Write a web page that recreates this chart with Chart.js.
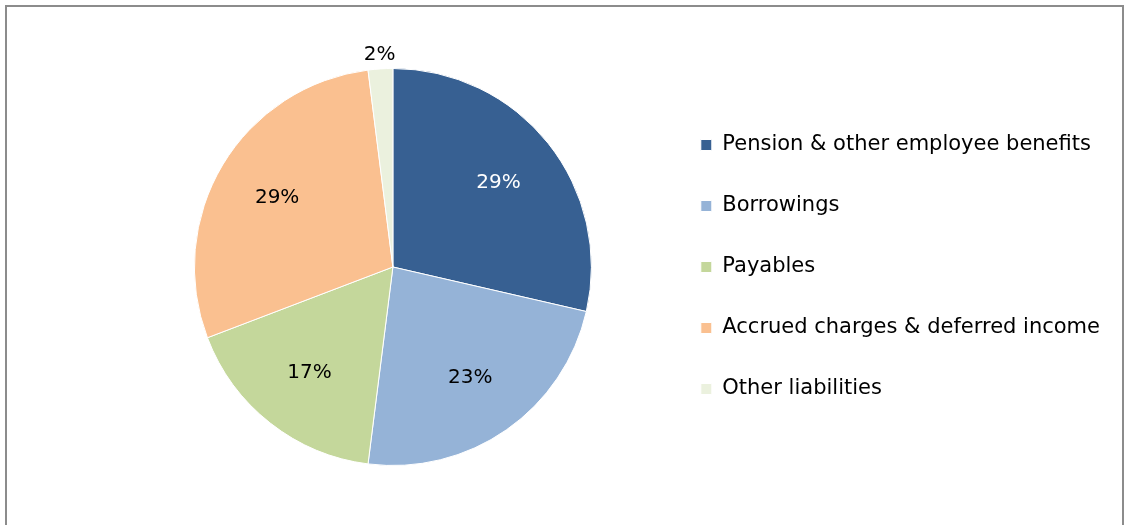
<!DOCTYPE html>
<html>
<head>
<meta charset="utf-8">
<script src="https://cdn.jsdelivr.net/npm/chart.js@4/dist/chart.umd.min.js"></script>
<style>
  html, body { margin: 0; padding: 0; background: #fff; overflow: hidden; }
  #frame {
    position: absolute; left: 5px; top: 5px; width: 1119px; height: 540px;
    border: 2px solid #8c8c8c; box-sizing: border-box;
  }
  #wrap { position: absolute; left: 0; top: 0; width: 1125px; height: 525px; }
</style>
</head>
<body>
<div id="frame"></div>
<div id="wrap"><canvas id="myChart"></canvas></div>
<script>
"use strict";
const categories = [
  "Pension & other employee benefits",
  "Borrowings",
  "Payables",
  "Accrued charges & deferred income",
  "Other liabilities",
];
const shares = [28.6, 23.4, 17.2, 28.8, 2.0];
const pctLabels = ["29%", "23%", "17%", "29%", "2%"];
const sliceColors = ["#376092", "#95b3d7", "#c4d79b", "#fac090", "#ebf1de"];
const labelColors = ["#ffffff", "#000000", "#000000", "#000000", "#000000"];

const FONT = "'DejaVu Sans', Verdana, sans-serif";

// draws the percentage text on (or just outside) each slice
const sliceLabels = {
  id: "sliceLabels",
  afterDatasetsDraw(chart) {
    const ctx = chart.ctx;
    const arcs = chart.getDatasetMeta(0).data;
    ctx.save();
    ctx.font = "20px " + FONT;
    ctx.textAlign = "center";
    ctx.textBaseline = "middle";
    arcs.forEach((arc, i) => {
      const { x, y, startAngle, endAngle, outerRadius } = arc.getProps(
        ["x", "y", "startAngle", "endAngle", "outerRadius"],
        true
      );
      const mid = (startAngle + endAngle) / 2;
      const small = shares[i] < 5;
      const r = small ? outerRadius + 14 : outerRadius * 0.68;
      ctx.fillStyle = labelColors[i];
      ctx.fillText(pctLabels[i], x + Math.cos(mid) * r, y + Math.sin(mid) * r);
    });
    ctx.restore();
  },
};

const createChart = () => {
  const ctx = document.getElementById("myChart").getContext("2d");
  return new Chart(ctx, {
    type: "pie",
    data: {
      labels: categories,
      datasets: [
        {
          data: shares,
          backgroundColor: sliceColors,
          borderColor: "#ffffff",
          borderWidth: 1,
        },
      ],
    },
    options: {
      responsive: true,
      maintainAspectRatio: false,
      animation: false,
      layout: { padding: { top: 68, bottom: 59, left: 125, right: 15 } },
      plugins: {
        tooltip: { enabled: false },
        legend: {
          position: "right",
          labels: {
            boxWidth: 11,
            boxHeight: 11,
            padding: 40,
            color: "#000000",
            font: { family: FONT, size: 21 },
          },
        },
      },
    },
    plugins: [sliceLabels],
  });
};

createChart();
</script>
</body>
</html>
